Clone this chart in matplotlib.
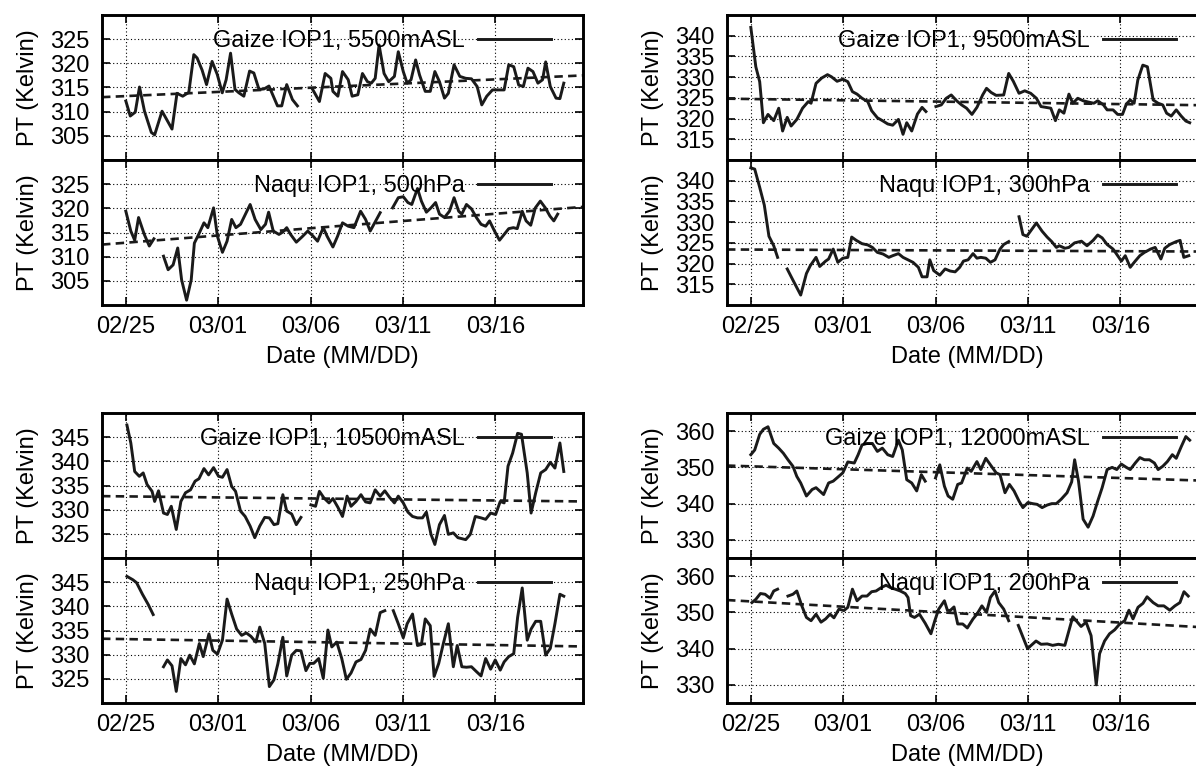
import matplotlib.pyplot as plt
import numpy as np

plt.rcParams.update({"font.family": "Liberation Sans", "font.size": 17})

# x axis: days since 02/25 00:00 (2008, leap year)
x_range = (-1.29, 24.75)
x_ticks = [0, 5, 10, 15, 20]
x_ticklabels = ["02/25", "03/01", "03/06", "03/11", "03/16"]

# ---- Gaize 5500 mASL ----
g55_days = [0.00, 0.24, 0.51, 0.74, 1.01, 1.38, 1.56, 1.96, 2.50, 2.77, 3.08, 3.41, 3.68, 3.86, 4.13,
            4.37, 4.67, 4.95, 5.22, 5.43, 5.67, 5.91, 6.12, 6.39, 6.70, 6.93, 7.21, 7.48, 7.75, 8.21,
            8.44, 8.71, 9.02, 9.29, None,
            10.10, 10.48, 10.79, 11.10, 11.21, 11.48, 11.73, 12.04, 12.25, 12.56, 12.81, 13.08, 13.29,
            13.50, 13.71, 13.98, 14.23, 14.54, 14.75, 15.02, 15.23, 15.44, 15.69, 15.90, 16.21, 16.48,
            16.73, 16.98, 17.25, 17.46, 17.77, 18.08, 18.40, 18.71, 19.02, 19.27, 19.54, 19.85, 20.17,
            20.48, 20.73, 21.00, 21.27, 21.52, 21.77, 22.04, 22.31, 22.56, 22.73, 22.98, 23.29, 23.50,
            23.71]
g55_vals = [312.2, 309.1, 309.9, 315.1, 310.1, 305.7, 305.2, 310.1, 306.4, 313.8, 313.2, 314.0, 321.8,
            321.1, 318.6, 315.6, 320.4, 317.7, 313.9, 316.6, 322.1, 314.6, 313.9, 313.2, 318.4, 318.0,
            314.6, 314.7, 315.3, 311.2, 311.2, 315.6, 312.5, 311.2, None,
            314.7, 312.1, 317.9, 316.9, 314.2, 313.2, 318.3, 316.6, 313.2, 313.5, 317.9, 316.2, 315.9,
            316.9, 323.8, 317.9, 316.2, 317.3, 322.4, 318.3, 315.9, 316.6, 320.7, 317.6, 314.2, 314.2,
            318.3, 316.2, 312.8, 313.8, 319.7, 317.3, 316.9, 316.8, 315.2, 311.4, 313.2, 314.5, 314.5,
            314.5, 319.7, 319.3, 315.5, 315.2, 319.0, 318.3, 315.9, 316.6, 320.3, 315.2, 312.8, 312.7,
            315.9]
g55_trend = [313.0, 317.5]

# ---- Naqu 500 hPa ----
n500_days = [0, 0.27, 0.48, 0.69, 1.0, 1.27, 1.52, None,
             2.04, 2.29, 2.56, 2.81, 3.02, 3.29, 3.54, 3.71, 3.98, 4.23, 4.44, 4.75, 4.96, 5.23, 5.48,
             5.73, 5.96, 6.21, 6.73, 7.0, 7.31, 7.56, 7.73, 7.98, 8.29, 8.5, 8.71, 8.92, 9.23, 9.54,
             9.85, 10.1, 10.38, 10.69, 10.9, 11.21, 11.46, 11.73, 12.04, 12.35, 12.71, 12.98, 13.23,
             13.5, 13.77, None,
             14.44, 14.75, 15.02, 15.27, 15.48, 15.79, 16.0, 16.27, 16.52, 16.77, 16.98, 17.25, 17.52,
             17.77, 18.02, 18.19, 18.44, 18.71, 18.98, 19.23, 19.48, 19.69, 19.96, 20.23, 20.48, 20.73,
             20.98, 21.19, 21.46, 21.67, 21.92, 22.17, 22.44, 22.71, 22.96, 23.17, 23.38]
n500_vals = [319.4, 315.3, 313.4, 318.1, 314.6, 312.2, 313.7, None,
             310.1, 307.3, 308.3, 311.8, 305.2, 301.0, 305.2, 312.8, 314.9, 317.0, 316.0, 320.1, 314.2,
             310.9, 313.2, 317.7, 316.0, 316.7, 320.8, 317.7, 315.6, 316.7, 319.2, 315.3, 314.6, 315.1,
             316.0, 314.6, 313.0, 314.1, 315.3, 314.4, 313.2, 316.0, 314.2, 312.0, 314.2, 317.0, 316.3,
             316.0, 319.4, 317.7, 315.3, 317.2, 319.1, None,
             320.1, 322.2, 322.4, 321.2, 320.8, 324.1, 321.5, 319.2, 320.1, 321.2, 318.8, 318.1, 319.4,
             322.2, 319.4, 318.8, 320.8, 319.9, 318.1, 316.7, 316.3, 317.4, 315.3, 313.4, 314.6, 315.8,
             316.0, 315.8, 319.4, 317.4, 316.5, 320.1, 321.5, 320.1, 318.4, 317.4, 318.8]
n500_trend = [312.5, 320.3]

# ---- Gaize 9500 mASL ----
g95_days = [0, 0.27, 0.48, 0.68, 0.93, 1.24, 1.51, 1.72, 1.97, 2.18, 2.49, 2.80, 3.11, 3.26, 3.53, 3.84,
            4.15, 4.36, 4.67, 4.98, 5.25, 5.50, 5.75, 6.02, 6.33, 6.54, 6.85, 7.16, 7.41, 7.68, 7.99,
            8.24, 8.44, 8.71, 9.02, 9.27, 9.48, None,
            10.02, 10.31, 10.58, 10.85, 11.14, 11.41, 11.68, 11.97, 12.24, 12.55, 12.76, 13.01, 13.28,
            13.69, 13.96, 14.21, 14.52, 14.83, 15.15, 15.46, 15.71, 15.98, 16.24, 16.49, 16.70, 16.95,
            17.22, 17.43, 17.70, 17.99, 18.26, 18.57, 18.78, 19.09, 19.29, 19.61, 19.86, 20.12, 20.33,
            20.54, 20.75, 20.95, 21.22, 21.47, 21.78, 22.05, 22.30, 22.51, 22.76, 23.03, 23.30, 23.55,
            23.76]
g95_vals = [342.0, 332.5, 328.9, 319.0, 321.0, 319.5, 322.5, 317.0, 320.3, 318.2, 319.8, 322.5, 324.1,
            323.7, 328.5, 329.8, 330.6, 330.1, 329.0, 329.5, 328.9, 326.5, 325.9, 324.9, 324.1, 321.9,
            320.2, 319.4, 318.7, 318.4, 319.8, 316.2, 319.0, 317.0, 321.1, 322.7, 321.7, None,
            322.9, 323.3, 324.9, 325.7, 324.3, 323.3, 322.5, 321.0, 322.7, 325.7, 327.3, 326.3, 325.6,
            325.7, 330.9, 329.0, 326.1, 326.7, 326.1, 324.9, 322.9, 322.7, 322.5, 319.5, 322.1, 321.3,
            325.9, 323.7, 324.9, 324.3, 324.0, 323.7, 324.3, 323.3, 322.1, 322.1, 321.0, 321.0, 323.5,
            324.5, 323.7, 329.3, 332.9, 332.5, 324.5, 323.7, 323.3, 321.3, 320.6, 322.1, 320.6, 319.4,
            319.0]
g95_trend = [324.8, 323.2]

# ---- Naqu 300 hPa ----
n300_days = [0, 0.21, 0.48, 0.73, 0.98, 1.24, 1.45, None,
             1.97, 2.28, 2.70, 3.01, 3.22, 3.53, 3.73, 4.05, 4.21, 4.46, 4.71, 4.98, 5.25, 5.46, 5.71,
             6.02, 6.33, 6.58, 6.85, 7.16, 7.47, 7.68, 7.99, 8.24, 8.51, 8.78, 9.07, 9.27, 9.54, 9.69,
             9.90, 10.23, 10.52, 10.79, 11.06, 11.31, 11.51, 11.76, 12.03, 12.24, 12.45, 12.72, 12.97,
             13.22, 13.49, 13.69, 13.96, None,
             14.52, 14.73, 14.94, 15.46, 15.77, 16.04, 16.29, 16.54, 16.70, 17.01, 17.22, 17.53, 17.90,
             18.20, 18.53, 18.78, 19.02, 19.29, 19.61, 19.86, 20.06, 20.27, 20.54, 20.81, 21.06, 21.31,
             21.64, 21.89, 22.20, 22.41, 22.68, 23.03, 23.24, 23.44, 23.71]
n300_vals = [343.1, 342.8, 338.4, 334.1, 326.6, 324.3, 321.5, None,
             318.7, 316.0, 312.4, 317.6, 319.5, 321.5, 319.3, 320.6, 321.1, 323.5, 320.3, 321.3, 321.5,
             326.4, 325.6, 324.8, 324.5, 323.9, 322.7, 322.3, 321.5, 321.9, 322.4, 321.5, 320.9, 320.3,
             319.1, 316.8, 316.8, 320.9, 318.3, 317.2, 318.7, 318.2, 318.0, 319.1, 320.6, 320.9, 322.4,
             321.3, 321.5, 321.3, 320.3, 320.9, 323.5, 324.6, 325.3, None,
             331.3, 327.0, 326.6, 329.8, 327.8, 326.4, 325.3, 323.9, 324.3, 323.7, 323.9, 325.0, 325.4,
             324.3, 325.6, 326.9, 326.2, 324.6, 323.5, 321.9, 320.6, 321.9, 319.1, 320.6, 321.9, 322.7,
             323.5, 323.9, 321.1, 323.7, 324.6, 325.3, 325.6, 321.5, 321.9]
n300_trend = [323.4, 322.9]

# ---- Gaize 10500 mASL ----
g105_days = [0.06, 0.27, 0.48, 0.73, 0.94, 1.15, 1.42, 1.56, 1.77, 2.04, 2.25, 2.46, 2.73, 2.98, 3.23,
             3.50, 3.75, 3.96, 4.23, 4.48, 4.75, 5.02, 5.23, 5.48, 5.73, 5.94, 6.21, 6.46, 6.73, 6.98,
             7.25, 7.52, 7.77, 8.02, 8.23, 8.50, 8.71, 8.98, 9.23, 9.48, None,
             10.02, 10.27, 10.48, 10.73, 11.0, 11.21, 11.48, 11.73, 11.98, 12.19, 12.46, 12.73, 12.98,
             13.23, 13.5, 13.77, 14.02, 14.27, 14.54, 14.75, 15.02, 15.27, 15.52, 15.79, 16.06, 16.27,
             16.52, 16.73, 16.98, 17.25, 17.46, 17.73, 17.98, 18.40, 18.65, 18.92, 19.23, 19.48, 19.75,
             20.02, 20.27, 20.48, 20.69, 20.94, 21.21, 21.42, 21.73, 21.94, 22.19, 22.46, 22.73, 22.98,
             23.23, 23.5, 23.71]
g105_vals = [347.5, 343.8, 337.9, 336.9, 337.6, 335.2, 333.8, 331.7, 333.9, 329.3, 329.0, 330.7, 325.9,
             331.7, 333.5, 334.1, 335.9, 336.4, 338.5, 337.2, 338.7, 336.9, 336.7, 338.3, 334.8, 333.8,
             329.7, 328.6, 326.6, 324.2, 326.6, 328.4, 328.3, 326.9, 327.1, 333.1, 329.7, 329.1, 326.9,
             328.4, None,
             331.0, 330.7, 333.8, 332.4, 331.4, 332.3, 330.5, 328.6, 332.8, 330.7, 331.7, 333.1, 331.6,
             331.4, 334.1, 332.8, 333.9, 332.6, 331.4, 332.8, 331.4, 329.5, 328.6, 328.3, 328.3, 329.5,
             324.9, 322.8, 326.9, 328.8, 324.9, 325.2, 324.2, 323.8, 324.9, 328.6, 328.3, 328.0, 329.3,
             329.0, 331.7, 331.4, 339.0, 341.7, 345.8, 345.6, 337.6, 329.3, 333.5, 337.6, 338.3, 339.8,
             338.6, 343.8, 337.9]
g105_trend = [332.8, 331.7]

# ---- Naqu 250 hPa ----
n250_days = [0.06, 0.38, 0.58, 0.90, 1.21, 1.48, None,
             2.04, 2.25, 2.50, 2.73, 2.98, 3.23, 3.46, 3.71, 3.98, 4.19, 4.50, 4.71, 4.96, 5.23, 5.48,
             5.73, 6.0, 6.27, 6.52, 6.77, 7.04, 7.25, 7.52, 7.77, 8.02, 8.23, 8.50, 8.71, 8.98, 9.23,
             9.48, 9.75, 9.96, 10.17, 10.44, 10.69, 10.94, 11.15, 11.42, 11.69, 11.94, 12.19, 12.46,
             12.73, 12.98, 13.23, 13.50, 13.77, 14.02, None,
             14.48, 14.75, 15.02, 15.23, 15.52, 15.79, 16.0, 16.21, 16.48, 16.69, 16.94, 17.19, 17.46,
             17.73, 17.94, 18.19, 18.44, 18.71, 18.98, 19.23, 19.48, 19.75, 20.0, 20.27, 20.48, 20.73,
             21.0, 21.21, 21.46, 21.73, 21.94, 22.19, 22.46, 22.73, 22.98, 23.23, 23.5, 23.71]
n250_vals = [346.2, 345.5, 344.9, 342.5, 340.4, 338.3, None,
             327.5, 328.9, 327.7, 322.4, 329.2, 327.9, 329.9, 328.1, 332.3, 329.6, 334.3, 330.9, 330.1,
             333.0, 341.5, 338.4, 335.3, 334.0, 334.5, 333.8, 332.6, 335.7, 332.3, 323.4, 324.8, 328.1,
             333.6, 325.6, 329.9, 330.9, 330.8, 326.7, 328.2, 328.2, 329.2, 325.1, 335.1, 331.6, 332.6,
             329.2, 324.9, 326.2, 328.5, 329.0, 330.9, 335.3, 334.0, 338.7, 339.1, None,
             339.1, 336.4, 333.5, 336.4, 338.4, 331.9, 332.1, 337.4, 336.0, 325.5, 328.2, 332.3, 336.4,
             327.5, 331.9, 327.5, 327.4, 327.5, 326.5, 325.6, 329.2, 327.0, 328.9, 326.8, 328.5, 329.6,
             330.2, 337.7, 343.8, 333.0, 335.3, 336.9, 336.9, 329.9, 331.3, 336.4, 342.5, 342.1]
n250_trend = [333.3, 331.7]

# ---- Gaize 12000 mASL ----
g120_days = [0, 0.21, 0.48, 0.68, 0.93, 1.24, 1.51, 1.76, 2.01, 2.28, 2.49, 2.70, 3.01, 3.32, 3.53, 3.94,
             4.21, 4.46, 4.71, 4.98, 5.25, 5.60, 5.81, 6.02, 6.29, 6.58, 6.85, 7.12, 7.41, 7.68, 7.99,
             8.20, 8.44, 8.71, 8.98, 9.23, 9.44, None,
             10.0, 10.23, 10.48, 10.68, 10.93, 11.2, 11.41, 11.72, 11.93, 12.24, 12.45, 12.72, 12.97,
             13.28, 13.49, 13.76, 14.0, 14.25, 14.52, 14.73, 15.0, 15.25, 15.50, 15.77, 16.04, 16.29,
             16.54, 16.80, 17.12, 17.37, 17.53, 17.74, 17.99, 18.26, 18.53, 18.78, 19.02, 19.29, 19.56,
             19.81, 20.06, 20.33, 20.54, 20.81, 21.06, 21.31, 21.58, 21.85, 22.05, 22.30, 22.55, 22.82,
             23.03, 23.30, 23.55, 23.76]
g120_vals = [353.5, 354.8, 359.1, 360.5, 361.2, 356.6, 355.3, 353.9, 352.1, 350.3, 347.5, 345.7, 342.1,
             343.9, 344.4, 342.5, 345.7, 346.2, 347.3, 348.5, 351.5, 351.2, 353.5, 356.2, 356.6, 356.6,
             354.4, 355.3, 353.5, 353.0, 357.5, 354.8, 346.6, 345.7, 343.5, 348.0, 346.2, None,
             347.1, 350.7, 344.8, 342.1, 341.2, 345.3, 345.7, 349.8, 348.9, 351.6, 349.4, 352.5, 350.7,
             348.5, 348.0, 343.0, 345.3, 343.5, 340.7, 338.9, 340.3, 340.0, 339.8, 338.9, 339.6, 340.0,
             340.0, 341.2, 343.0, 346.0, 352.1, 346.2, 335.7, 333.5, 336.6, 340.7, 344.4, 349.4, 350.0,
             349.4, 350.9, 350.0, 349.4, 351.2, 352.7, 352.1, 352.1, 351.2, 349.4, 350.3, 351.6, 353.5,
             352.5, 355.7, 358.5, 357.5]
g120_trend = [350.5, 346.3]

# ---- Naqu 200 hPa ----
n200_days = [0.06, 0.27, 0.52, 0.77, 1.04, 1.24, 1.45, None,
             2.01, 2.28, 2.49, 2.76, 3.01, 3.26, 3.53, 3.80, 4.05, 4.29, 4.50, 4.77, 5.04, 5.25, 5.50,
             5.75, 6.02, 6.29, 6.54, 6.78, 7.05, 7.32, 7.57, 7.82, 8.09, 8.36, 8.51, 8.65, 8.86, 9.13,
             9.44, 9.75, 9.96, 10.17, 10.48, 10.64, 10.79, 11.0, 11.2, 11.47, 11.72, 12.03, 12.24,
             12.51, 12.76, 12.97, 13.22, 13.42, 13.69, 13.96, None,
             14.48, 14.98, 15.44, 15.71, 16.05, 16.34, 16.65, 17.0, 17.43, 17.88, 18.15, 18.42, 18.70,
             18.88, 19.15, 19.42, 19.70, 19.97, 20.24, 20.47, 20.69, 20.96, 21.23, 21.45, 21.78, 22.05,
             22.36, 22.68, 22.96, 23.23, 23.45, 23.68]
n200_vals = [352.7, 353.6, 355.2, 355.0, 353.9, 355.9, 356.4, None,
             354.5, 355.0, 355.9, 351.8, 348.6, 347.7, 349.5, 347.3, 348.2, 349.5, 348.5, 350.9, 350.5,
             351.4, 356.4, 353.2, 354.5, 354.5, 355.7, 355.9, 356.8, 357.5, 356.8, 356.4, 355.9, 355.2,
             354.1, 349.1, 348.6, 349.5, 347.0, 344.1, 347.7, 350.9, 353.2, 350.6, 350.5, 351.5, 346.8,
             346.8, 345.7, 348.2, 349.5, 351.8, 350.0, 354.1, 355.9, 352.7, 350.9, 347.7, None,
             346.4, 340.0, 342.1, 341.2, 341.3, 340.9, 341.2, 340.9, 348.8, 346.1, 347.3, 343.6, 330.0,
             338.6, 342.1, 344.1, 345.2, 346.8, 347.7, 350.6, 348.2, 351.4, 352.5, 354.3, 352.7, 351.8,
             351.8, 350.6, 351.8, 352.7, 355.7, 354.5]
n200_trend = [353.4, 345.8]

labels = ["Gaize IOP1, 5500mASL", "Naqu IOP1, 500hPa",
          "Gaize IOP1, 9500mASL", "Naqu IOP1, 300hPa",
          "Gaize IOP1, 10500mASL", "Naqu IOP1, 250hPa",
          "Gaize IOP1, 12000mASL", "Naqu IOP1, 200hPa"]

ylims = [(300, 330), (300, 330), (310, 345), (310, 345),
         (320, 350), (320, 350), (325, 365), (325, 365)]
yticks = [[305, 310, 315, 320, 325]] * 2 + [[315, 320, 325, 330, 335, 340]] * 2 \
    + [[325, 330, 335, 340, 345]] * 2 + [[330, 340, 350, 360]] * 2

series = [(g55_days, g55_vals, g55_trend), (n500_days, n500_vals, n500_trend),
          (g95_days, g95_vals, g95_trend), (n300_days, n300_vals, n300_trend),
          (g105_days, g105_vals, g105_trend), (n250_days, n250_vals, n250_trend),
          (g120_days, g120_vals, g120_trend), (n200_days, n200_vals, n200_trend)]


def as_array(seq):
    return np.array([np.nan if v is None else v for v in seq], dtype=float)


W, H = 1196, 774
fig = plt.figure(figsize=(W / 100, H / 100), dpi=100)

# pixel layout: (left, top) of each pair of stacked panels
group_origin = [(102, 15), (727, 15), (102, 413), (727, 413)]
panel_w, panel_h = 481, 145

for k, (days, vals, trend) in enumerate(series):
    group, row = divmod(k, 2)
    left, top = group_origin[group]
    ptop = top + row * panel_h
    ax = fig.add_axes([left / W, 1 - (ptop + panel_h) / H, panel_w / W, panel_h / H])

    line, = ax.plot(as_array(days), as_array(vals), color="#1a1a1a", lw=2.1)
    ax.plot(x_range, trend, color="#1a1a1a", lw=1.9, dashes=(3.2, 2.0))

    ax.set_xlim(x_range)
    ax.set_ylim(ylims[k])
    ax.set_yticks(yticks[k])
    ax.set_xticks(x_ticks)
    ax.grid(True, color="black", lw=0.8, linestyle=(0, (1, 2.2)))
    ax.tick_params(direction="in", length=5.5, width=1.2, top=True, right=True, pad=9)
    for s in ax.spines.values():
        s.set_linewidth(2.1)

    if row == 0:
        ax.tick_params(labelbottom=False)
    else:
        ax.set_xticklabels(x_ticklabels)
        ax.tick_params(axis="x", pad=8)
        ax.set_xlabel("Date (MM/DD)", labelpad=6)
    ax.set_ylabel("PT (Kelvin)", labelpad=8)

    ax.legend([line], [labels[k]], loc="upper right", bbox_to_anchor=(0.933, 0.895),
              frameon=False, markerfirst=False, handlelength=3.1, handletextpad=0.55,
              borderaxespad=0, borderpad=0)

fig.savefig("out.png", dpi=100)
